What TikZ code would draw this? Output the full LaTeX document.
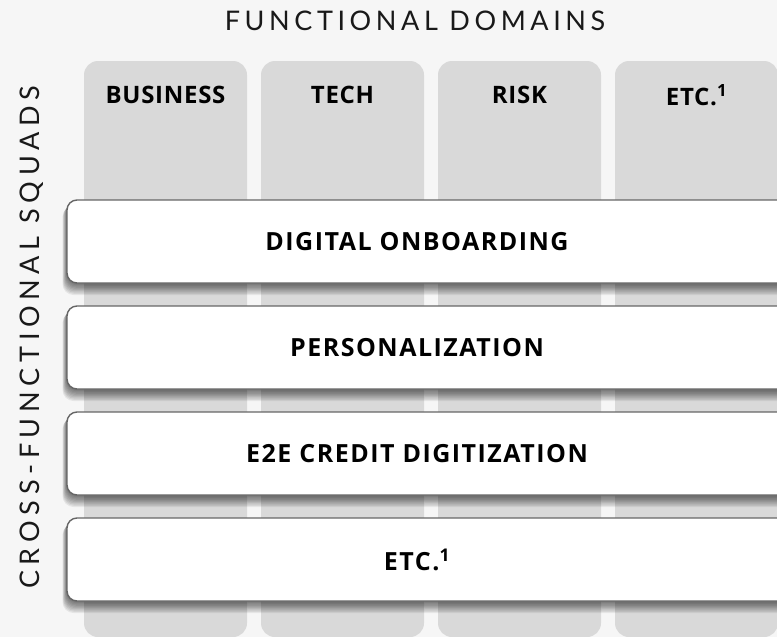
\documentclass[tikz,border=0pt]{standalone}
\usepackage{fontspec}
\setmainfont{Open Sans}
\newfontfamily\hdrfont[LetterSpace=3]{Open Sans}
\newfontfamily\sqfont[LetterSpace=6]{Open Sans}
\newfontfamily\titlefont[LetterSpace=17]{Lato}
\newfontfamily\sidefont[LetterSpace=21]{Lato}
\definecolor{bgc}{HTML}{F6F6F6}
\definecolor{colc}{HTML}{D9D9D9}
\definecolor{edgec}{HTML}{666666}
\tikzset{
  domaincol/.style={fill=colc, rounded corners=14pt},
  squad/.style={fill=white, draw=edgec, line width=1.4pt, rounded corners=10pt},
  shadowlayer/.style={fill=black, rounded corners=11pt},
  hdr/.style={font=\fontsize{24}{28}\selectfont\hdrfont\bfseries, text=black},
  squadlbl/.style={font=\fontsize{25}{29}\selectfont\sqfont\bfseries, text=black},
  axislbl/.style={font=\fontsize{27}{30}\selectfont\titlefont, text=black!90},
  sidelbl/.style={font=\fontsize{27}{30}\selectfont\sidefont, text=black!90}
}
\begin{document}
\begin{tikzpicture}[x=1pt,y=-1pt]
\useasboundingbox (0,0) rectangle (777,637);
\clip (0,0) rectangle (777,637);
\fill[bgc] (0,0) rectangle (777,637);
% domain columns
\foreach \x in {84,261,438,615}{
  \fill[domaincol] (\x,61) rectangle ++(163,576);
}
\node[hdr] (h1) at (165.5,95) {BUSINESS};
\node[hdr] (h2) at (342.5,95) {TECH};
\node[hdr] (h3) at (519.5,95) {RISK};
\node[hdr] (h4) at (696.5,95) {ETC.\textsuperscript{1}};
% squads with shadows
\foreach \y/\lbl/\nm in {200/DIGITAL ONBOARDING/s1,306/PERSONALIZATION/s2,412/E2E CREDIT DIGITIZATION/s3,518/ETC.\textsuperscript{1}/s4}{
  \foreach \k in {1,...,10}{
    \fill[shadowlayer, opacity=0.065] (67-\k*0.45,\y+\k*0.6) rectangle (790,\y+83+\k*1.2);
  }
  \draw[squad] (67,\y) rectangle (790,\y+83);
  \node[squadlbl] (\nm) at (417,\y+41.5) {\lbl};
}
\node[axislbl] (top) at (415,21) {FUNCTIONAL DOMAINS};
\node[sidelbl, rotate=90] (side) at (32,337.5) {CROSS-FUNCTIONAL SQUADS};
\end{tikzpicture}
\end{document}
